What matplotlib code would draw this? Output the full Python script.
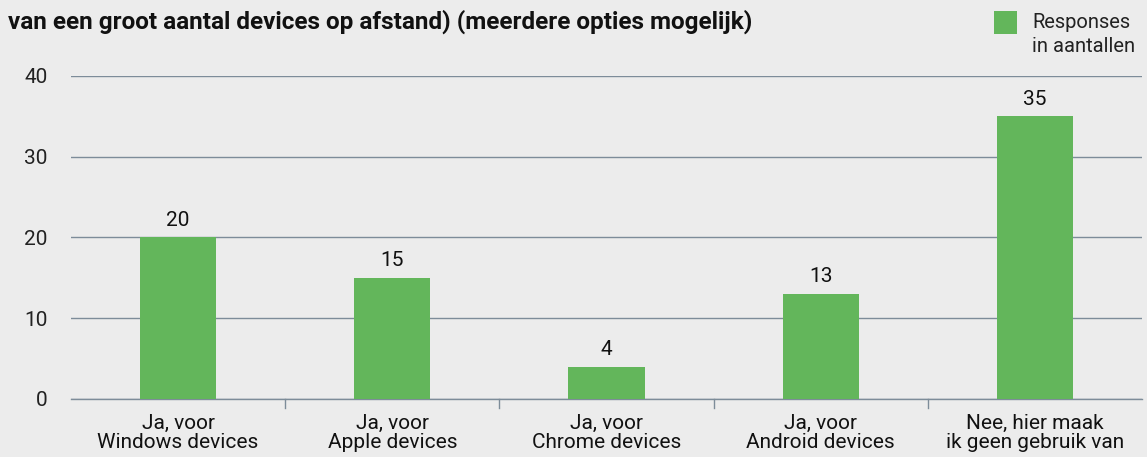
import matplotlib
matplotlib.use("Agg")
import matplotlib.pyplot as plt
from matplotlib.patches import Rectangle

plt.rcParams['font.family'] = ['Roboto', 'DejaVu Sans']

categories = ["Ja, voor\nWindows devices", "Ja, voor\nApple devices", "Ja, voor\nChrome devices",
              "Ja, voor\nAndroid devices", "Nee, hier maak\nik geen gebruik van"]
values = [20, 15, 4, 13, 35]
yticks = [0, 10, 20, 30, 40]
title = "van een groot aantal devices op afstand) (meerdere opties mogelijk)"
legend_label = "Responses\nin aantallen"

BG = "#ececec"
GREEN = "#63b65b"
GRID = "#7d8c99"

W, H = 1147, 457
fig = plt.figure(figsize=(W/100, H/100), dpi=100, facecolor=BG)
ax = fig.add_axes([71/W, 1-399/H, (1142-71)/W, (399-76)/H], facecolor=BG)

x = list(range(len(categories)))
ax.bar(x, values, width=0.355, color=GREEN, zorder=3)
for xi, v in zip(x, values):
    ax.text(xi, v + 0.95, str(v), ha='center', va='bottom', fontsize=15, color='#111111', zorder=4)

ax.set_xlim(-0.5, len(categories)-0.5)
ax.set_ylim(0, 40)
ax.set_yticks(yticks)
ax.set_yticklabels([str(t) for t in yticks], fontsize=15, color='#222222')
ax.yaxis.grid(True, color=GRID, linewidth=1.0, zorder=0)
ax.tick_params(axis='y', length=0, pad=17)

ax.set_xticks(x)
ax.set_xticklabels(categories, fontsize=15, color='#111111', linespacing=1.0)
ax.tick_params(axis='x', length=0, pad=10.5)
# category boundary ticks
for b in [0.5, 1.5, 2.5, 3.5]:
    ax.plot([b, b], [0, -1.1], color=GRID, linewidth=1.0, clip_on=False, zorder=2)

for s in ['top', 'right', 'left']:
    ax.spines[s].set_visible(False)
ax.spines['bottom'].set_color(GRID)
ax.spines['bottom'].set_linewidth(1.0)

fig.text(8/W, 1-22/H, title, fontsize=17.5, fontweight='bold', color='#111111', ha='left', va='center')

fig.patches.append(Rectangle((994/W, 1-34/H), 23/W, 23/H, transform=fig.transFigure,
                             facecolor=GREEN, edgecolor='none'))
fig.text(1032/W, 1-13/H, legend_label, fontsize=14.5, color='#222222', ha='left', va='top', linespacing=1.35)

fig.savefig("out.png", dpi=100, facecolor=BG)
